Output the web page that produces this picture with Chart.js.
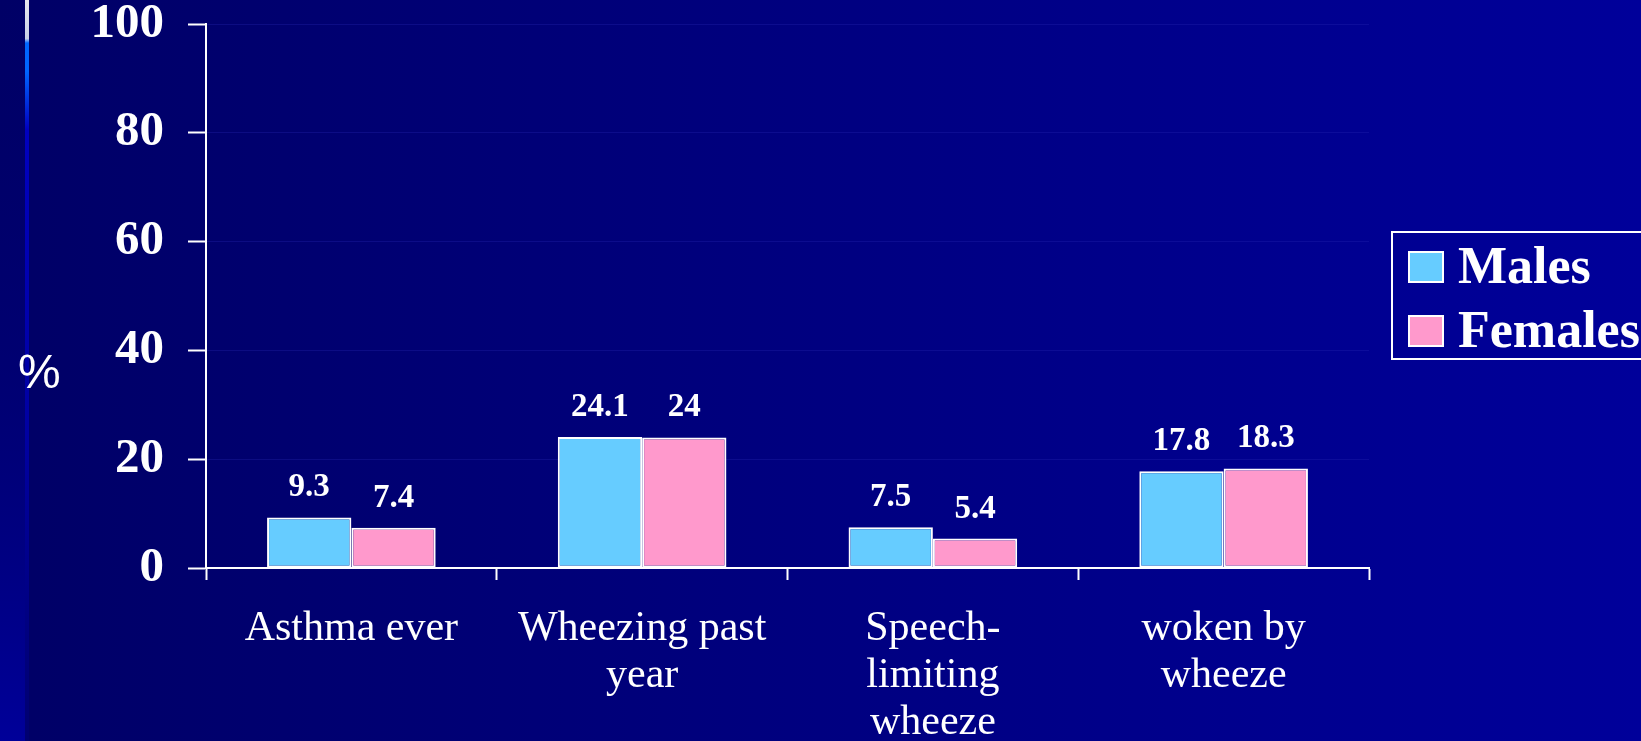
<!DOCTYPE html>
<html lang="en">
<head>
<meta charset="UTF-8">
<title>Asthma symptoms by sex</title>
<script src="https://cdn.jsdelivr.net/npm/chart.js"></script>
<style>
    body {
        margin: 0;
        padding: 0;
        background: #000066;
        overflow: hidden;
    }
    #wrap {
        width: 1641px;
        height: 741px;
    }
</style>
</head>
<body>
<div id="wrap"><canvas id="chart" width="1641" height="741"></canvas></div>
<script>
    // data
    const categories = [['Asthma ever'], ['Wheezing past', 'year'], ['Speech-', 'limiting', 'wheeze'], ['woken by', 'wheeze']];
    const males = [9.3, 24.1, 7.5, 17.8];
    const females = [7.4, 24, 5.4, 18.3];
    const seriesNames = ['Males', 'Females'];
    const seriesColors = ['#66ccff', '#ff99cc'];
    const yMin = 0, yMax = 100, yStep = 20;
    const yTitle = '%';

    const serif = '"Liberation Serif", "Times New Roman", serif';
    const sans = '"Liberation Sans", Arial, sans-serif';

    // slide background: dark navy to blue, plus the thin bar on the left
    const backdrop = {
        id: 'backdrop',
        beforeDraw(chart) {
            const ctx = chart.ctx;
            const w = chart.width, h = chart.height;
            ctx.save();
            const g = ctx.createLinearGradient(0, 0, w, 0);
            g.addColorStop(0, '#000066');
            g.addColorStop(1, '#00009a');
            ctx.fillStyle = g;
            ctx.fillRect(0, 0, w, h);

            const strip = ctx.createLinearGradient(0, 0, 0, h);
            strip.addColorStop(0, 'rgba(0,0,110,0)');
            strip.addColorStop(0.5, 'rgba(0,0,125,0.5)');
            strip.addColorStop(1, '#000099');
            ctx.fillStyle = strip;
            ctx.fillRect(0, 0, 25, h);

            const line = ctx.createLinearGradient(0, 0, 0, h);
            line.addColorStop(0, '#e8e8ee');
            line.addColorStop(0.052, '#c8d0e8');
            line.addColorStop(0.058, '#0066ff');
            line.addColorStop(0.096, '#0066ff');
            line.addColorStop(0.175, '#0000c0');
            line.addColorStop(0.6, '#0000a0');
            line.addColorStop(1, 'rgba(0,0,150,0.2)');
            ctx.fillStyle = line;
            ctx.fillRect(25, 0, 4, h);
            ctx.restore();
        }
    };

    // value labels above each bar
    const valueLabels = {
        id: 'valueLabels',
        afterDatasetsDraw(chart) {
            const ctx = chart.ctx;
            ctx.save();
            ctx.fillStyle = '#ffffff';
            ctx.font = 'bold 33px ' + serif;
            ctx.textAlign = 'center';
            ctx.textBaseline = 'alphabetic';
            chart.data.datasets.forEach((ds, i) => {
                chart.getDatasetMeta(i).data.forEach((bar, j) => {
                    ctx.fillText(String(ds.data[j]), bar.x, bar.y - 21);
                });
            });
            ctx.restore();
        }
    };

    // boxed legend on the right (runs off the slide edge) and the % title
    const sideText = {
        id: 'sideText',
        afterDraw(chart) {
            const ctx = chart.ctx;
            ctx.save();
            ctx.strokeStyle = '#ffffff';
            ctx.lineWidth = 2;
            ctx.strokeRect(1392, 232, 300, 127);
            ctx.font = 'bold 52px ' + serif;
            ctx.textBaseline = 'alphabetic';
            ctx.textAlign = 'left';
            chart.data.datasets.forEach((ds, i) => {
                const top = 252 + i * 64;
                ctx.fillStyle = ds.backgroundColor;
                ctx.fillRect(1409, top, 34, 30);
                ctx.strokeRect(1409, top, 34, 30);
                ctx.fillStyle = '#ffffff';
                ctx.fillText(ds.label, 1458, top + 31);
            });

            ctx.font = '48px ' + sans;
            ctx.fillText(yTitle, 18, 388);
            ctx.restore();
        }
    };

    new Chart(document.getElementById('chart').getContext('2d'), {
        type: 'bar',
        data: {
            labels: categories,
            datasets: [{
                label: seriesNames[0],
                data: males,
                backgroundColor: seriesColors[0],
                borderColor: '#ffffff',
                borderWidth: 2,
                borderSkipped: false
            }, {
                label: seriesNames[1],
                data: females,
                backgroundColor: seriesColors[1],
                borderColor: '#ffffff',
                borderWidth: 2,
                borderSkipped: false
            }]
        },
        options: {
            responsive: false,
            animation: false,
            layout: {
                padding: { top: 24, right: 272, bottom: 0, left: 0 }
            },
            datasets: {
                bar: { categoryPercentage: 0.58, barPercentage: 1.0 }
            },
            plugins: {
                legend: { display: false },
                tooltip: { enabled: false }
            },
            scales: {
                x: {
                    afterFit(scale) { scale.height = 173; },
                    grid: {
                        drawOnChartArea: false,
                        drawTicks: true,
                        tickLength: 12,
                        tickColor: '#ffffff',
                        tickWidth: 2
                    },
                    border: { color: '#ffffff', width: 2 },
                    ticks: {
                        color: '#ffffff',
                        font: { family: serif, size: 42, lineHeight: 1.12 },
                        maxRotation: 0,
                        autoSkip: false,
                        padding: 25
                    }
                },
                y: {
                    min: yMin,
                    max: yMax,
                    afterFit(scale) {
                        scale.width = 206;
                        // keep the plot top where the slide has it
                        scale.paddingTop = 0;
                        scale.paddingBottom = 0;
                    },
                    grid: {
                        color: 'rgba(40,40,180,0.3)',
                        lineWidth: 1,
                        tickLength: 18,
                        tickColor: '#ffffff',
                        tickWidth: 2
                    },
                    border: { color: '#ffffff', width: 2 },
                    ticks: {
                        stepSize: yStep,
                        color: '#ffffff',
                        font: { family: serif, size: 49, weight: 'bold', lineHeight: 1 },
                        padding: 24
                    }
                }
            }
        },
        plugins: [backdrop, valueLabels, sideText]
    });
</script>
</body>
</html>
